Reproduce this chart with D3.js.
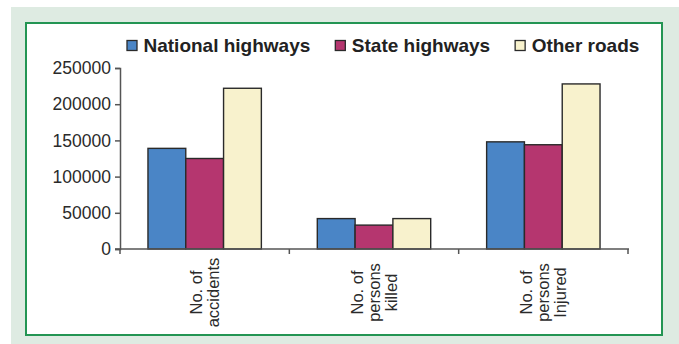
<!DOCTYPE html>
<html>
<head>
<meta charset="utf-8">
<script src="https://cdn.jsdelivr.net/npm/d3@7"></script>
<style>
  html, body { margin: 0; padding: 0; background: #ffffff; }
  svg { display: block; }
  text { font-family: "Liberation Sans", Arial, sans-serif; }
</style>
</head>
<body>
<svg id="chart" width="679" height="344"></svg>
<script>
// Road accidents by road type
const categories = [
  ["No. of", "accidents"],
  ["No. of", "persons", "killed"],
  ["No. of", "persons", "Injured"]
];
const seriesNames = ["National highways", "State highways", "Other roads"];
const nationalHighways = [139000, 42000, 148000];
const stateHighways    = [125000, 33000, 144000];
const otherRoads       = [222000, 42000, 228000];
const yTicks = [0, 50000, 100000, 150000, 200000, 250000];

const seriesValues = [nationalHighways, stateHighways, otherRoads];
const colors = ["#4a85c6", "#b5366f", "#f8f2cd"];

const svg = d3.select("#chart");

// page background and framed panel
svg.append("rect").attr("x", 11).attr("y", 7).attr("width", 668).attr("height", 337)
  .attr("fill", "#deebe2");
svg.append("rect").attr("x", 26).attr("y", 23).attr("width", 636).attr("height", 312)
  .attr("fill", "#ffffff").attr("stroke", "#239553").attr("stroke-width", 2);

const plot = { left: 120, right: 628, top: 68, bottom: 249 };

const catKeys = categories.map((c, i) => i);
const x0 = d3.scaleBand().domain(catKeys).range([plot.left, plot.right])
  .paddingInner(0).paddingOuter(0);
const x1 = d3.scaleBand().domain(d3.range(seriesNames.length))
  .range([0, x0.bandwidth()]).paddingInner(0).paddingOuter(0.74);
const y = d3.scaleLinear().domain([0, 250000]).range([plot.bottom, plot.top]);

// bars
const groups = svg.append("g").selectAll("g")
  .data(catKeys).join("g")
  .attr("transform", d => `translate(${x0(d)},0)`);

groups.selectAll("rect")
  .data(ci => seriesValues.map((vals, si) => ({ si, v: vals[ci] })))
  .join("rect")
  .attr("x", d => x1(d.si))
  .attr("y", d => y(d.v))
  .attr("width", x1.bandwidth())
  .attr("height", d => y(0) - y(d.v))
  .attr("fill", d => colors[d.si])
  .attr("stroke", "#2a2a2a")
  .attr("stroke-width", 1.4);

// y axis
const yAxis = svg.append("g")
  .attr("transform", `translate(${plot.left},0)`)
  .call(d3.axisLeft(y).tickValues(yTicks).tickSize(5).tickPadding(4).tickFormat(d3.format("d")));
yAxis.select(".domain").attr("stroke", "#555").attr("stroke-width", 1.5);
yAxis.selectAll(".tick line").attr("stroke", "#555").attr("stroke-width", 1.5);
yAxis.selectAll(".tick text")
  .attr("font-size", "17.5px")
  .attr("fill", "#2a2a2a")
  .attr("font-family", "Liberation Sans, Arial, sans-serif");

// x axis: baseline with ticks at the category boundaries
const xAxis = svg.append("g");
xAxis.append("line")
  .attr("x1", plot.left - 5).attr("x2", plot.right + 1)
  .attr("y1", y(0)).attr("y2", y(0))
  .attr("stroke", "#555").attr("stroke-width", 1.5);
const boundaries = catKeys.map(k => x0(k)).concat([x0(catKeys[catKeys.length - 1]) + x0.bandwidth()]);
xAxis.selectAll("line.tick").data(boundaries).join("line")
  .attr("class", "tick")
  .attr("x1", d => d).attr("x2", d => d)
  .attr("y1", y(0)).attr("y2", y(0) + 5)
  .attr("stroke", "#555").attr("stroke-width", 1.5);

// rotated, multi-line category labels
const labelSize = 16.5;
const lineGap = 17;
const labelMidY = 292.5;
catKeys.forEach(ci => {
  const lines = categories[ci];
  const cx = x0(ci) + x0.bandwidth() / 2;
  lines.forEach((line, li) => {
    const off = (li - (lines.length - 1) / 2) * lineGap;
    const bx = cx + off + labelSize * 0.36;
    svg.append("text")
      .attr("transform", `translate(${bx},${labelMidY}) rotate(-90)`)
      .attr("text-anchor", "middle")
      .attr("font-size", labelSize + "px")
      .attr("fill", "#2a2a2a")
      .text(line);
  });
});

// legend
const legend = svg.append("g");
let lx = 127;
seriesNames.forEach((name, i) => {
  legend.append("rect")
    .attr("x", lx).attr("y", 40.5).attr("width", 10).attr("height", 10)
    .attr("fill", colors[i]).attr("stroke", "#2a2a2a").attr("stroke-width", 1.3);
  const t = legend.append("text")
    .attr("x", lx + 16.5).attr("y", 52)
    .attr("font-size", "19px").attr("font-weight", "bold")
    .attr("fill", "#222")
    .text(name);
  lx += 16.5 + t.node().getComputedTextLength() + 25;
});
</script>
</body>
</html>
